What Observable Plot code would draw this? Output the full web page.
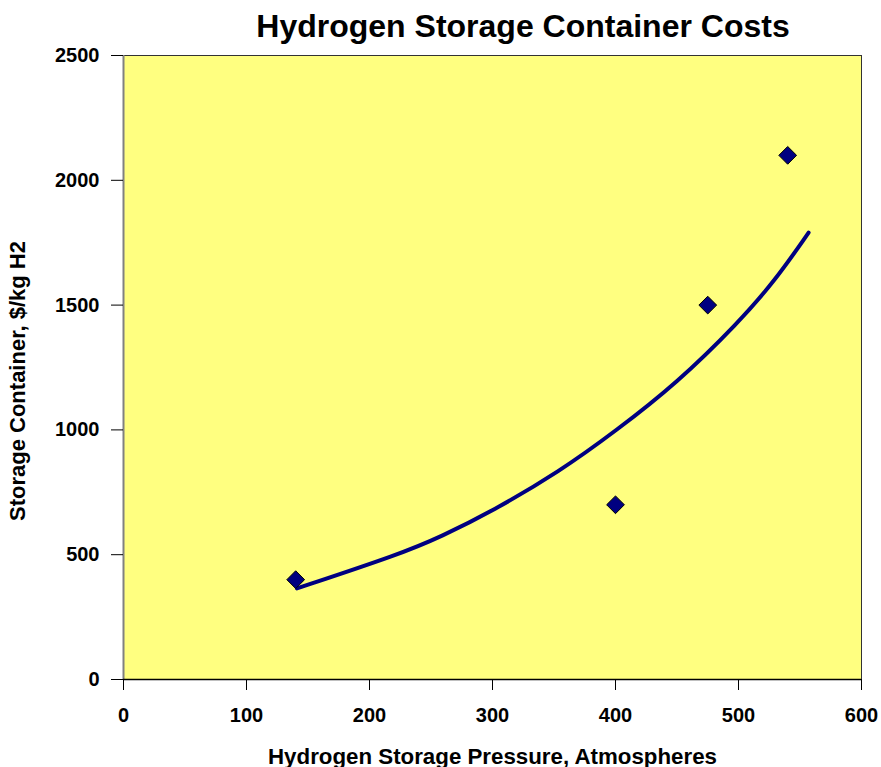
<!DOCTYPE html>
<html>
<head>
<meta charset="utf-8">
<script src="https://cdn.jsdelivr.net/npm/d3@7"></script>
<script src="https://cdn.jsdelivr.net/npm/@observablehq/plot@0.6"></script>
<style>
  html, body { margin: 0; padding: 0; background: #ffffff; }
  #wrap { position: relative; width: 881px; height: 767px; font-family: "Liberation Sans", Arial, sans-serif; overflow: hidden; }
  #title { position: absolute; left: 523px; top: 8px; transform: translateX(-50%); white-space: nowrap;
    font-size: 32px; line-height: 36px; font-weight: bold; color: #000; }
  #ylabel { position: absolute; left: 18px; top: 381px; transform: translate(-50%, -50%) rotate(-90deg); white-space: nowrap;
    font-size: 22px; line-height: 26px; font-weight: bold; color: #000; }
  #chart { position: absolute; left: 0; top: 30px; }
</style>
</head>
<body>
<div id="wrap">
  <div id="chart"></div>
  <div id="title">Hydrogen Storage Container Costs</div>
  <div id="ylabel">Storage Container, $/kg H2</div>
</div>
<script>
// Observed data points
const pressure = [140, 400, 475, 540];
const cost = [400, 700, 1500, 2100];
// Trendline
const trendPressure = [141, 225, 258, 300, 355, 400, 450, 500, 530, 557];
const trendCost = [365, 503, 572, 675, 835, 995, 1188, 1430, 1600, 1790];
// Tick values
const xTicks = [0, 100, 200, 300, 400, 500, 600];
const yTicks = [0, 500, 1000, 1500, 2000, 2500];

const points = pressure.map((p, i) => ({x: p, y: cost[i]}));
const trend = trendPressure.map((p, i) => ({x: p, y: trendCost[i]}));

const chart = Plot.plot({
  width: 881,
  height: 737,
  marginTop: 25,
  marginBottom: 88,
  marginLeft: 123,
  marginRight: 20,
  style: {fontFamily: "'Liberation Sans', Arial, sans-serif", fontWeight: "bold", background: "transparent", color: "#000"},
  x: {domain: [0, 600]},
  y: {domain: [0, 2500]},
  marks: [
    Plot.frame({fill: "#FFFF80", stroke: "#333333", strokeWidth: 1}),
    Plot.ruleX([0], {stroke: "#808080", strokeWidth: 2}),
    Plot.ruleY([0], {stroke: "#000000", strokeWidth: 1.5}),
    Plot.axisX({ticks: xTicks, tickFormat: "d", tickSize: 11, tickPadding: 17, fontSize: 20,
      label: null}),
    Plot.axisY({ticks: yTicks, tickFormat: "d", tickSize: 12, tickPadding: 12, fontSize: 20,
      label: null}),
    Plot.text(["Hydrogen Storage Pressure, Atmospheres"], {text: d => d, frameAnchor: "bottom", dy: 84,
      fontSize: 22.3, fontWeight: "bold", fill: "#000"}),
    Plot.line(trend, {x: "x", y: "y", stroke: "#000080", strokeWidth: 4, curve: "basis"}),
    Plot.dot(points, {x: "x", y: "y", symbol: "diamond2", r: 8, fill: "#000080", stroke: "#000000", strokeWidth: 1})
  ]
});
document.getElementById("chart").appendChild(chart);
</script>
</body>
</html>
